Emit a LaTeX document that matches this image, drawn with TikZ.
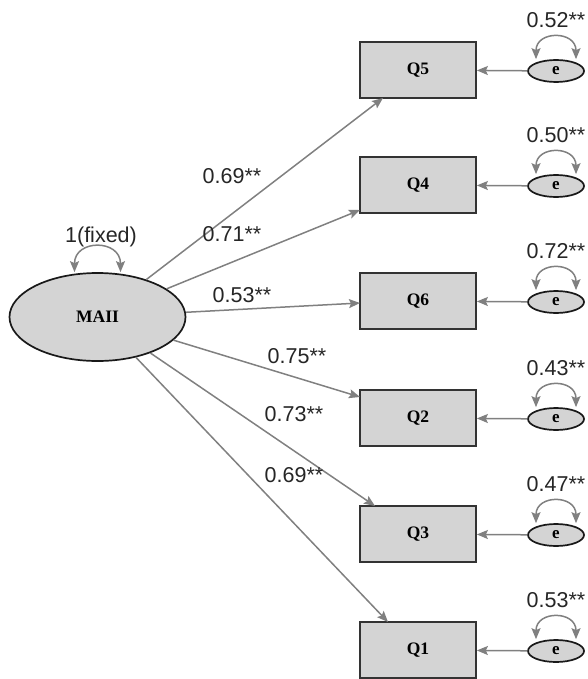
\documentclass[tikz,border=0pt]{standalone}
\usepackage{fontspec}
\setmainfont{Liberation Serif}
\newfontfamily\lblfont{Liberation Sans}
\usetikzlibrary{arrows.meta,calc,shapes.geometric}
\definecolor{boxgray}{RGB}{212,212,212}
\definecolor{pathgray}{RGB}{128,128,128}

\begin{document}
\begin{tikzpicture}[x=1pt,y=-1pt,>={Stealth[length=11pt,width=9pt,inset=2pt]},
  obs/.style={draw=black!80,line width=1.7pt,fill=boxgray,minimum width=116pt,minimum height=56pt,inner sep=0pt,font=\fontsize{17.5}{19}\selectfont\bfseries},
  lat/.style={ellipse,draw=black!90,line width=1.7pt,fill=boxgray,minimum width=176pt,minimum height=88pt,inner sep=0pt,font=\fontsize{17.5}{19}\selectfont\bfseries},
  err/.style={ellipse,draw=black!90,line width=1.7pt,fill=boxgray,minimum width=56pt,minimum height=22pt,inner sep=0pt,font=\fontsize{17}{19}\selectfont\bfseries},
  load/.style={->,draw=pathgray,line width=1.5pt},
  varloop/.style={<->,draw=pathgray,line width=1.5pt,looseness=1.85},
  lbl/.style={text=black!85,font=\lblfont\fontsize{21.5}{23}\selectfont,inner sep=0pt}]
\useasboundingbox (0,0) rectangle (587,679);

% latent factor
\node[lat] (MAII) at (97.5,317) {MAII};
\draw[varloop] ([xshift=-23pt]MAII.north) to[out=90,in=90] ([xshift=23pt]MAII.north);
\node[lbl] (fix) at (101,237) {1(fixed)};

% items
\node[obs] (Q5) at (418,70) {Q5};
\node[obs] (Q4) at (418,185) {Q4};
\node[obs] (Q6) at (418,301) {Q6};
\node[obs] (Q2) at (418,418) {Q2};
\node[obs] (Q3) at (418,534) {Q3};
\node[obs] (Q1) at (418,650) {Q1};

% loadings
\draw[load] (MAII) -- ($(Q5)+(-35,28)$);
\draw[load] (MAII) -- ($(Q4)+(-58,25)$);
\draw[load] (MAII) -- ($(Q6)+(-58,2)$);
\draw[load] (MAII) -- ($(Q2)+(-58,-21)$);
\draw[load] (MAII) -- ($(Q3)+(-43,-28)$);
\draw[load] (MAII) -- ($(Q1)+(-30,-28)$);

\node[lbl] (l5) at (232,176) {0.69**};
\node[lbl] (l4) at (232,234) {0.71**};
\node[lbl] (l6) at (242,295) {0.53**};
\node[lbl] (l2) at (297,356) {0.75**};
\node[lbl] (l3) at (294,414) {0.73**};
\node[lbl] (l1) at (294,475) {0.69**};

% error terms
\node[err] (e5) at (556,71) {e};
\node[err] (e4) at (556,186) {e};
\node[err] (e6) at (556,302) {e};
\node[err] (e2) at (556,419) {e};
\node[err] (e3) at (556,535) {e};
\node[err] (e1) at (556,651) {e};

\draw[load] (e5) -- (Q5);
\draw[load] (e4) -- (Q4);
\draw[load] (e6) -- (Q6);
\draw[load] (e2) -- (Q2);
\draw[load] (e3) -- (Q3);
\draw[load] (e1) -- (Q1);

\draw[varloop] ([xshift=-20pt]e5.north) to[out=90,in=90] ([xshift=20pt]e5.north);
\draw[varloop] ([xshift=-20pt]e4.north) to[out=90,in=90] ([xshift=20pt]e4.north);
\draw[varloop] ([xshift=-20pt]e6.north) to[out=90,in=90] ([xshift=20pt]e6.north);
\draw[varloop] ([xshift=-20pt]e2.north) to[out=90,in=90] ([xshift=20pt]e2.north);
\draw[varloop] ([xshift=-20pt]e3.north) to[out=90,in=90] ([xshift=20pt]e3.north);
\draw[varloop] ([xshift=-20pt]e1.north) to[out=90,in=90] ([xshift=20pt]e1.north);

\node[lbl] (v5) at ([yshift=51pt]e5) {0.52**};
\node[lbl] (v4) at ([yshift=51pt]e4) {0.50**};
\node[lbl] (v6) at ([yshift=51pt]e6) {0.72**};
\node[lbl] (v2) at ([yshift=51pt]e2) {0.43**};
\node[lbl] (v3) at ([yshift=51pt]e3) {0.47**};
\node[lbl] (v1) at ([yshift=51pt]e1) {0.53**};
\end{tikzpicture}
\end{document}
